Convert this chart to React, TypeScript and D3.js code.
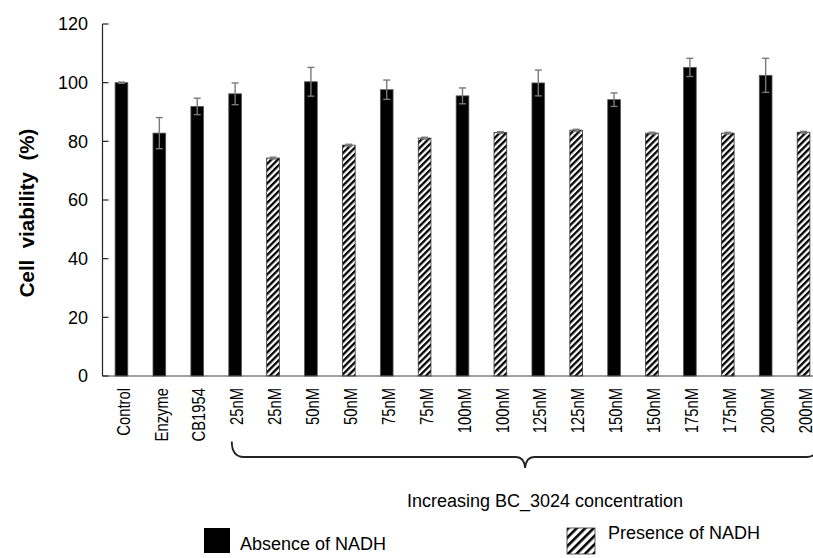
import React from 'react';
import * as d3 from 'd3';

const categories = ['Control', 'Enzyme', 'CB1954', '25nM', '25nM', '50nM', '50nM', '75nM', '75nM', '100nM', '100nM', '125nM', '125nM', '150nM', '150nM', '175nM', '175nM', '200nM', '200nM'];
const nadh = ['absent', 'absent', 'absent', 'absent', 'present', 'absent', 'present', 'absent', 'present', 'absent', 'present', 'absent', 'present', 'absent', 'present', 'absent', 'present', 'absent', 'present'];
const viability = [100, 82.8, 91.9, 96.2, 74.3, 100.3, 78.7, 97.6, 81.1, 95.5, 83.0, 99.9, 83.8, 94.2, 82.8, 105.2, 82.8, 102.5, 83.1];
const errors = [0.2, 5.3, 2.8, 3.7, 0.3, 4.9, 0.3, 3.3, 0.3, 2.7, 0.3, 4.4, 0.3, 2.3, 0.3, 3.1, 0.3, 5.8, 0.3];
const yTicks = [0, 20, 40, 60, 80, 100, 120];
const yTitle = 'Cell  viability  (%)';
const braceLabel = 'Increasing BC_3024 concentration';
const legendLabels = ['Absence of NADH', 'Presence of NADH'];

const W = 813;
const H = 558;
const FONT = '"Liberation Sans", Arial, sans-serif';

export default function App() {
  const idx = categories.map((_, i) => i);
  const x = d3.scaleBand<number>().domain(idx).range([102.5, 822.5]).paddingInner(0.665).paddingOuter(0.3325);
  const y = d3.scaleLinear().domain([0, 120]).range([376, 24]);
  const bw = x.bandwidth();

  const braceL = (x(3) as number) + 3;
  const braceR = (x(18) as number) + bw + 8.5;
  const braceMid = (braceL + braceR) / 2;
  const by = 457;
  const p = d3.path();
  p.moveTo(braceL, 441.5);
  p.quadraticCurveTo(braceL, by, braceL + 12, by);
  p.lineTo(braceMid - 9, by);
  p.quadraticCurveTo(braceMid - 1, by, braceMid, 468);
  p.quadraticCurveTo(braceMid + 1, by, braceMid + 9, by);
  p.lineTo(braceR - 12, by);
  p.quadraticCurveTo(braceR, by, braceR, 441.5);

  return (
    <svg width={W} height={H} style={{ position: 'absolute', left: 0, top: 0, background: '#fff' }} fontFamily={FONT}>
      <defs>
        <pattern id="hatch" patternUnits="userSpaceOnUse" width={4.6} height={4.6} patternTransform="rotate(45)">
          <rect x={0} y={0} width={4.6} height={4.6} fill="#fff" />
          <rect x={0} y={0} width={2.3} height={4.6} fill="#000" />
        </pattern>
        <pattern id="hatchL" patternUnits="userSpaceOnUse" width={6} height={6} patternTransform="rotate(45)">
          <rect x={0} y={0} width={6} height={6} fill="#fff" />
          <rect x={0} y={0} width={2.6} height={6} fill="#000" />
        </pattern>
      </defs>
      <rect x={0} y={0} width={W} height={H} fill="#fff" />

      {/* bars */}
      {idx.map((i) => (
        <rect
          key={'b' + i}
          x={x(i)}
          y={y(viability[i])}
          width={bw}
          height={y(0) - y(viability[i])}
          fill={nadh[i] === 'absent' ? '#000' : 'url(#hatch)'}
          stroke={nadh[i] === 'absent' ? '#555' : '#333'}
          strokeWidth={0.8}
        />
      ))}

      {/* error bars */}
      {idx.map((i) => {
        const cx = (x(i) as number) + bw / 2;
        const hi = y(viability[i] + errors[i]);
        const lo = y(viability[i] - errors[i]);
        return (
          <g key={'e' + i} stroke="#7a7a7a" strokeWidth={1.4}>
            <line x1={cx} x2={cx} y1={hi} y2={lo} />
            <line x1={cx - 3.5} x2={cx + 3.5} y1={hi} y2={hi} />
            <line x1={cx - 3.5} x2={cx + 3.5} y1={lo} y2={lo} />
          </g>
        );
      })}

      {/* axes */}
      <line x1={102.5} x2={102.5} y1={y(120)} y2={y(0)} stroke="#222" strokeWidth={1.2} />
      <line x1={102.5} x2={W} y1={y(0)} y2={y(0)} stroke="#444" strokeWidth={1.2} />
      {yTicks.map((t) => (
        <g key={'t' + t}>
          <line x1={102.5} x2={108.5} y1={y(t)} y2={y(t)} stroke="#222" strokeWidth={1.2} />
          <text x={88} y={y(t)} dy="0.36em" textAnchor="end" fontSize={18} fill="#000">{t}</text>
        </g>
      ))}

      {/* category labels */}
      {idx.map((i) => {
        const cx = (x(i) as number) + bw / 2 + 1.5;
        return (
          <text key={'c' + i} transform={`translate(${cx},388) rotate(-90) scale(0.8,1)`} dy="0.36em" textAnchor="end" fontSize={18.5} fill="#000">
            {categories[i]}
          </text>
        );
      })}

      {/* y title */}
      <text transform="translate(34,213) rotate(-90)" textAnchor="middle" fontSize={20.5} fontWeight="bold" fill="#000" style={{ whiteSpace: 'pre' }}>
        {yTitle}
      </text>

      {/* brace */}
      <path d={p.toString()} fill="none" stroke="#222" strokeWidth={1.8} />
      <text x={545} y={507} textAnchor="middle" fontSize={18} fill="#000">{braceLabel}</text>

      {/* legend */}
      <rect x={204} y={528} width={26} height={25} fill="#000" />
      <text x={240} y={550} fontSize={18} fill="#000">{legendLabels[0]}</text>
      <rect x={567} y={528} width={28} height={26} fill="url(#hatchL)" stroke="#333" strokeWidth={0.8} />
      <text x={608} y={539} fontSize={18} fill="#000">{legendLabels[1]}</text>
    </svg>
  );
}
